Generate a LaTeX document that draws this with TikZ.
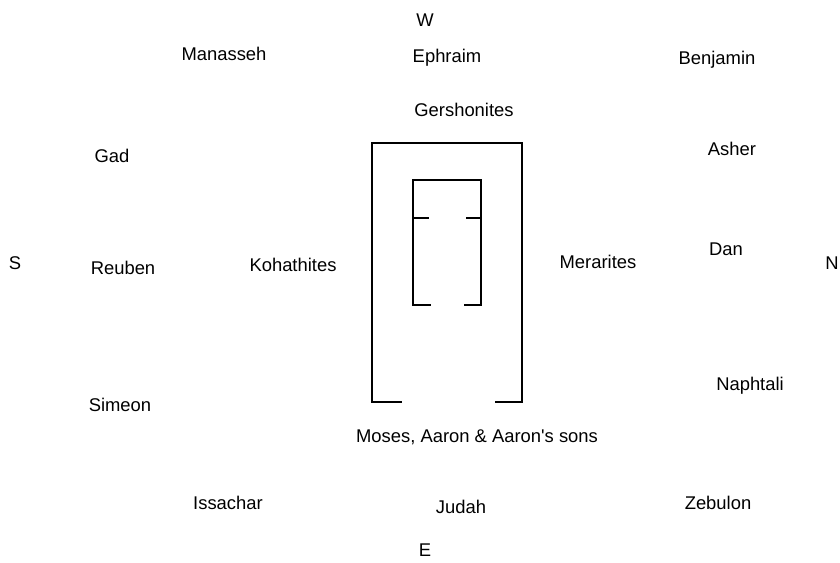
\documentclass[tikz,border=0pt]{standalone}
\usepackage{fontspec}
\setmainfont{Liberation Sans}
\begin{document}
\begin{tikzpicture}[x=0.5pt,y=-0.5pt,
  camp/.style={font=\fontsize{9.2}{11}\selectfont,inner sep=0pt},
  wall/.style={line width=1pt,line cap=rect}]
\useasboundingbox (0,0) rectangle (840,562);
%compass points
\node[camp] (west) at (425,20) {W};
\node[camp] (east) at (425,550) {E};
\node[camp] (south) at (15,263) {S};
\node[camp] (north) at (832,263) {N};
%tribes
\node[camp] (manasseh) at (224,54) {Manasseh};
\node[camp] (ephraim) at (447,58) {Ephraim};
\node[camp] (benjamin) at (717,60) {Benjamin};
\node[camp] (gad) at (112,156) {Gad};
\node[camp] (asher) at (732,149) {Asher};
\node[camp] (reuben) at (123,268) {Reuben};
\node[camp] (dan) at (726,249) {Dan};
\node[camp] (simeon) at (120,405) {Simeon};
\node[camp] (naphtali) at (750,386) {Naphtali};
\node[camp] (issachar) at (228,503) {Issachar};
\node[camp] (judah) at (461,507) {Judah};
\node[camp] (zebulon) at (718,503) {Zebulon};
%levites
\node[camp] (gershonites) at (464,110) {Gershonites};
\node[camp] (kohathites) at (293,265) {Kohathites};
\node[camp] (merarites) at (598,262) {Merarites};
\node[camp] (moses) at (477,437) {Moses, Aaron \& Aaron\textquotesingle s sons};
%court
\draw[wall](401,402)--(372,402)--(372,143)--(522,143)--(522,402)--(496,402);
%tabernacle
\draw[wall](430,305)--(413,305)--(413,180)--(481,180)--(481,305)--(465,305);
\draw[wall](413,218)--(428,218);
\draw[wall](467,218)--(481,218);
\end{tikzpicture}
\end{document}
